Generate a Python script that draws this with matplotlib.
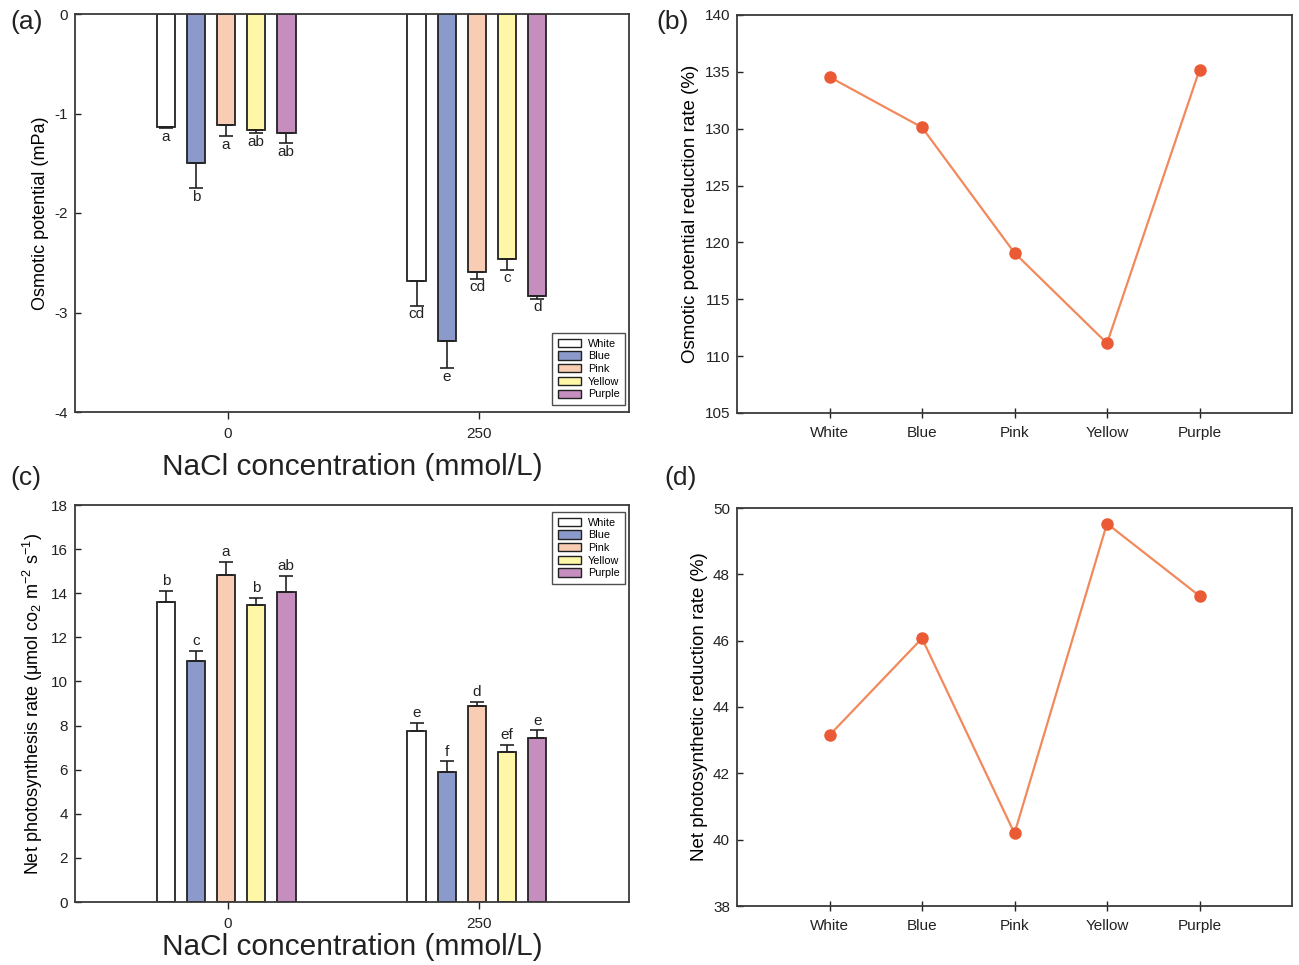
import matplotlib
matplotlib.use("Agg")
import matplotlib.pyplot as plt
from matplotlib.patches import Patch
import numpy as np

plt.rcParams['font.family'] = ['Liberation Sans', 'DejaVu Sans']
plt.rcParams['axes.unicode_minus'] = False
plt.rcParams['mathtext.fontset'] = 'custom'
plt.rcParams['mathtext.rm'] = 'Liberation Sans'
plt.rcParams['mathtext.it'] = 'Liberation Sans:italic'
plt.rcParams['mathtext.default'] = 'regular'

# ---- data ----
colours = ["White", "Blue", "Pink", "Yellow", "Purple"]
nacl_levels = ["0", "250"]

# Osmotic potential (mPa), rows = NaCl level, columns = colour
osm_mean = [[-1.14, -1.50, -1.12, -1.17, -1.20],
            [-2.68, -3.29, -2.59, -2.46, -2.83]]
osm_err = [[0.01, 0.25, 0.11, 0.03, 0.10],
           [0.25, 0.27, 0.07, 0.11, 0.03]]
osm_letters = [["a", "b", "a", "ab", "ab"],
               ["cd", "e", "cd", "c", "d"]]

# Net photosynthesis rate (umol CO2 m-2 s-1)
pn_mean = [[13.62, 10.94, 14.84, 13.45, 14.04],
           [7.75, 5.91, 8.89, 6.79, 7.42]]
pn_err = [[0.47, 0.45, 0.59, 0.34, 0.74],
          [0.36, 0.47, 0.17, 0.33, 0.36]]
pn_letters = [["b", "c", "a", "b", "ab"],
              ["e", "f", "d", "ef", "e"]]

# Reduction rates (%)
osm_reduction = [134.55, 130.12, 119.08, 111.13, 135.18]
pn_reduction = [43.15, 46.07, 40.19, 49.53, 47.35]

# ---- style ----
bar_colours = ["#FFFFFF", "#8C9ACB", "#F9CDB3", "#FFF7A8", "#C68DBF"]
line_colour = "#F2895C"
marker_colour = "#EA5B35"
spine_colour = "#3A3A3A"
text_colour = "#222222"

fig = plt.figure(figsize=(12.99, 9.65), dpi=100)
W, H = 1299, 965


def add_axes(left, top, right, bottom):
    return fig.add_axes([left / W, (H - bottom) / H, (right - left) / W, (bottom - top) / H])


ax_a = add_axes(75, 14, 629, 412)
ax_c = add_axes(75, 505, 629, 902)
ax_b = add_axes(737, 15, 1292, 413)
ax_d = add_axes(737, 508, 1292, 906)

for ax in (ax_a, ax_b, ax_c, ax_d):
    for s in ax.spines.values():
        s.set_color(spine_colour)
        s.set_linewidth(1.3)
    ax.tick_params(labelsize=11, colors=text_colour, width=1.0)
    ax.tick_params(axis='y', direction='in', length=4, pad=5)
    ax.tick_params(axis='x', pad=6)


def grouped_bars(ax, means, errs, letters, below, xlabel_y):
    n = len(colours)
    step = 0.12
    width = 0.074
    groups = np.arange(len(nacl_levels))
    for j in range(n):
        x = groups + (j - (n - 1) / 2) * step - 0.008
        vals = np.array([means[g][j] for g in range(len(groups))])
        e = np.array([errs[g][j] for g in range(len(groups))])
        ax.bar(x, vals, width=width, color=bar_colours[j], edgecolor=text_colour,
               linewidth=1.3, label=colours[j], zorder=2)
        if below:
            yerr = [e, np.zeros_like(e)]
        else:
            yerr = [np.zeros_like(e), e]
        ax.errorbar(x, vals, yerr=yerr, fmt='none', ecolor=text_colour,
                    elinewidth=1.2, capsize=5, capthick=1.2, zorder=3)
        for g in range(len(groups)):
            if below:
                ax.annotate(letters[g][j], (x[g], vals[g] - e[g]), xytext=(0, -1),
                            textcoords='offset points', ha='center', va='top',
                            fontsize=11, color=text_colour)
            else:
                ax.annotate(letters[g][j], (x[g], vals[g] + e[g]), xytext=(0, 2),
                            textcoords='offset points', ha='center', va='bottom',
                            fontsize=11, color=text_colour)
    ax.set_xticks(groups)
    ax.set_xticklabels(nacl_levels)
    ax.set_xlim(-0.61, 1.598)
    ax.tick_params(axis='x', direction='out', length=5)
    bbox = ax.get_position()
    fig.text((bbox.x0 + bbox.x1) / 2, 1 - xlabel_y / H, "NaCl concentration (mmol/L)",
             fontsize=21.5, ha='center', va='center', color=text_colour)


def make_legend(ax, loc, anchor):
    handles = [Patch(facecolor=c, edgecolor=text_colour, linewidth=1.0, label=l)
               for c, l in zip(bar_colours, colours)]
    leg = ax.legend(handles=handles, loc=loc, bbox_to_anchor=anchor, fontsize=7.8,
                    frameon=True, fancybox=False, edgecolor=text_colour,
                    handlelength=2.2, handleheight=0.8, labelspacing=0.25,
                    handletextpad=0.6, borderpad=0.5, borderaxespad=0)
    leg.get_frame().set_linewidth(1.0)


# (a) osmotic potential
grouped_bars(ax_a, osm_mean, osm_err, osm_letters, below=True, xlabel_y=467)
ax_a.set_ylim(-4, 0)
ax_a.set_yticks([0, -1, -2, -3, -4])
ax_a.set_ylabel("Osmotic potential (mPa)", fontsize=13, labelpad=4)
make_legend(ax_a, 'lower right', (0.993, 0.018))

# (c) net photosynthesis
grouped_bars(ax_c, pn_mean, pn_err, pn_letters, below=False, xlabel_y=947)
ax_c.set_ylim(0, 18)
ax_c.set_yticks(np.arange(0, 19, 2))
ax_c.set_ylabel(r"Net photosynthesis rate (μmol co$_2$ m$^{-2}$ s$^{-1}$)",
                fontsize=13, labelpad=4)
make_legend(ax_c, 'upper right', (0.993, 0.982))


def reduction_line(ax, values, ylim, yticks, ylabel):
    x = np.arange(1, len(colours) + 1)
    ax.plot(x, values, color=line_colour, linewidth=1.6, zorder=2)
    ax.plot(x, values, linestyle='none', marker='o', markersize=8,
            color=marker_colour, zorder=3)
    ax.set_xlim(0, 6)
    ax.set_xticks(x)
    ax.set_xticklabels(colours)
    ax.tick_params(axis='x', direction='inout', length=7)
    ax.set_ylim(*ylim)
    ax.set_yticks(yticks)
    ax.set_ylabel(ylabel, fontsize=13.5, labelpad=4)


reduction_line(ax_b, osm_reduction, (105, 140), np.arange(105, 141, 5),
               "Osmotic potential reduction rate (%)")
reduction_line(ax_d, pn_reduction, (38, 50), np.arange(38, 51, 2),
               "Net photosynthetic reduction rate (%)")

# panel letters
for label, (px, py) in {"(a)": (10, 22), "(b)": (656, 22),
                        "(c)": (10, 478), "(d)": (664, 478)}.items():
    fig.text(px / W, 1 - py / H, label, fontsize=19, ha='left', va='center',
             color=text_colour)

fig.savefig("out.png", dpi=100)
